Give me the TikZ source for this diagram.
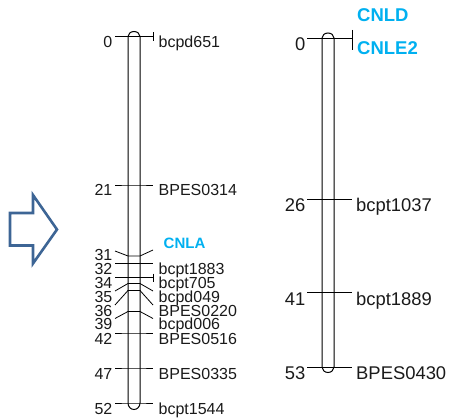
\documentclass[tikz,border=0pt]{standalone}
\usepackage{fontspec}
\setmainfont{Liberation Sans}
\definecolor{cnl}{HTML}{00B0F0}
\definecolor{arrowblue}{HTML}{3D6595}
\definecolor{txt}{HTML}{1A1A1A}
\begin{document}
\begin{tikzpicture}[x=1pt,y=-1pt,
  chrom/.style={draw=black, line width=1pt, fill=white},
  tick/.style={draw=black, line width=0.8pt},
  numL/.style={anchor=base east, inner sep=0pt, text=txt, font=\fontsize{16}{16}\selectfont},
  mrkL/.style={anchor=base west, inner sep=0pt, text=txt, font=\fontsize{16}{16}\selectfont},
  numR/.style={anchor=base east, inner sep=0pt, text=txt, font=\fontsize{18.4}{18.4}\selectfont},
  mrkR/.style={anchor=base west, inner sep=0pt, text=txt, font=\fontsize{18.4}{18.4}\selectfont},
  qtlL/.style={anchor=base west, inner sep=0pt, text=cnl, font=\fontsize{15}{15}\selectfont\bfseries},
  qtlR/.style={anchor=base west, inner sep=0pt, text=cnl, font=\fontsize{18.5}{18.5}\selectfont\bfseries},
  bigarrow/.style={draw=arrowblue, line width=2.6pt, line join=miter, fill=white}]
\useasboundingbox (0,0) rectangle (449,419);

% arrow
\draw[bigarrow] (10,213) -- (33,213) -- (33,195) -- (57,229.5) -- (33,263.5) -- (33,245.5) -- (10,245.5) -- cycle;

% ---------- left chromosome ----------
\draw[chrom] (128,403) -- (128,36.5) arc[start angle=180,end angle=360,x radius=6,y radius=5]
  -- (140,403) arc[start angle=0,end angle=180,x radius=6,y radius=6.5] -- cycle;

\foreach \n/\l/\b/\r/\m in {0/36.5/36.5/36.5/bcpd651, 21/185/185/185/BPES0314,
  32/263.5/263.5/263.5/bcpt1883, 34/277.5/277.5/277.5/bcpt705,
  35/291/283.5/291/bcpd049, 36/305/290.5/305/BPES0220, 39/318.5/311.5/318.5/bcpd006,
  42/333/333/333/BPES0516, 47/368/368/368/BPES0335, 52/403/403/403/bcpt1544}{
  \coordinate (la\n) at (115,\l);
  \coordinate (lb\n) at (128,\b);
  \coordinate (lc\n) at (140,\b);
  \coordinate (ld\n) at (153,\r);
  \draw[tick] (la\n) -- (lb\n) -- (lc\n) -- (ld\n);
  \node[numL] (ln\n) at ({112.5},{\l+11}) {\n};
  \node[mrkL] (lm\n) at ({158.5},{\r+11}) {\m};
}
% 31 / CNLA
\coordinate (la31) at (115,251);
\coordinate (lb31) at (128,256);
\coordinate (lc31) at (140,256);
\coordinate (ld31) at (153,250);
\draw[tick] (la31) -- (lb31) -- (lc31) -- (ld31);
\node[numL] (ln31) at (112.5,261) {31};
\node[qtlL] (cnla) at (163.5,248.5) {CNLA};

% end caps
\coordinate (capA1) at (153,32.5);
\coordinate (capA2) at (153,41);
\draw[tick] (capA1) -- (capA2);
\coordinate (capB1) at (153,273.5);
\coordinate (capB2) at (153,282);
\draw[tick] (capB1) -- (capB2);

% ---------- right chromosome ----------
\draw[chrom] (322,367) -- (322,38) arc[start angle=180,end angle=360,x radius=6,y radius=5]
  -- (334,367) arc[start angle=0,end angle=180,x radius=6,y radius=5.5] -- cycle;

\foreach \n/\y/\m in {0/38/{}, 26/199/bcpt1037, 41/292.5/bcpt1889, 53/367/BPES0430}{
  \coordinate (ra\n) at (307,\y);
  \coordinate (rb\n) at (352,\y);
  \draw[tick] (ra\n) -- (rb\n);
  \node[numR] (rn\n) at ({305.5},{\y+12.5}) {\n};
  \node[mrkR] (rm\n) at ({356},{\y+12.5}) {\m};
}
\coordinate (capC1) at (352,30);
\coordinate (capC2) at (352,50);
\draw[tick] (capC1) -- (capC2);
\node[qtlR] (cnld) at (357,21.7) {CNLD};
\node[qtlR] (cnle) at (357,54.5) {CNLE2};
\end{tikzpicture}
\end{document}
